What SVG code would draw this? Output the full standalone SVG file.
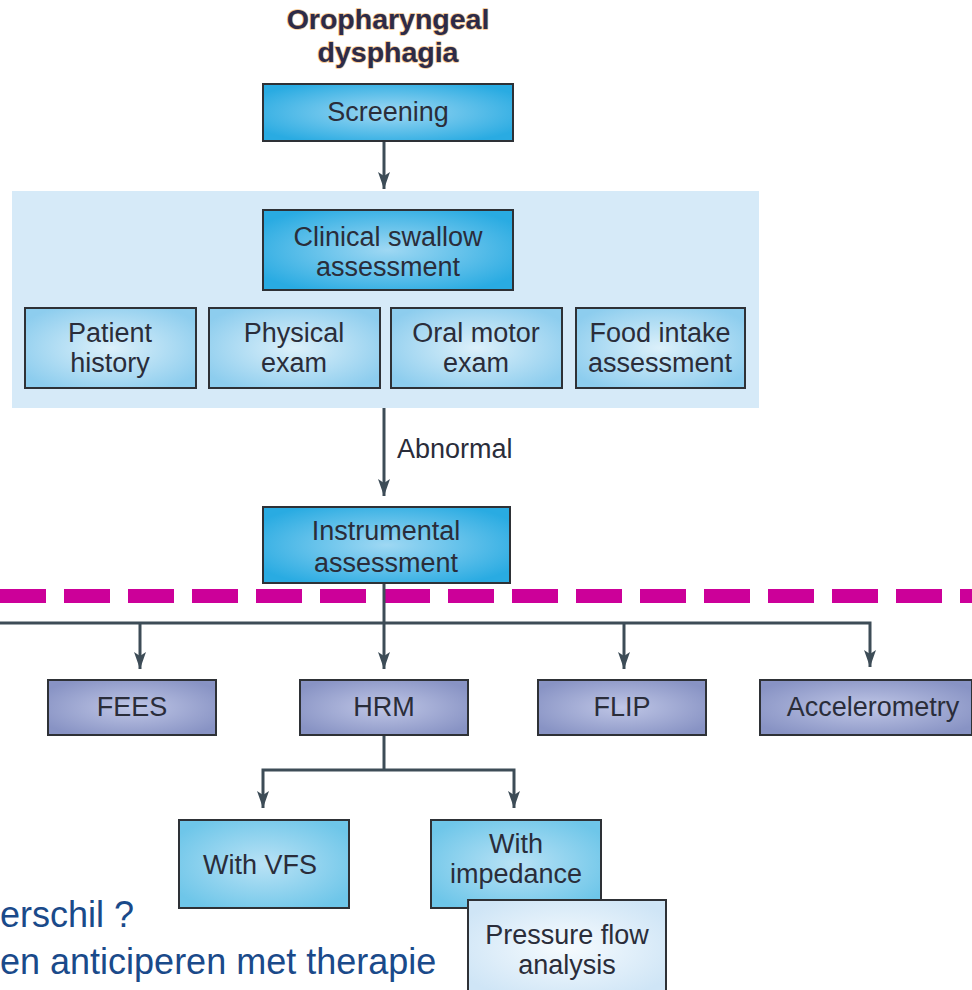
<svg xmlns="http://www.w3.org/2000/svg" width="972" height="990" viewBox="0 0 972 990">
<style>
text{font-family:"Liberation Sans",Arial,sans-serif;font-size:27px;fill:#2a2d3a;text-anchor:middle}
.title{font-weight:bold;font-size:28.5px;fill:#2d2b48;stroke:#f4c48a;stroke-width:1.5px;paint-order:stroke;stroke-linejoin:round}
.box{stroke:#2e3136;stroke-width:2}
.c{fill:url(#gCyan)}
.l{fill:url(#gLight)}
.p{fill:url(#gPurple)}
.v{fill:url(#gVfs)}
.w{fill:url(#gPale)}
.conn{fill:none;stroke:#3d4c57;stroke-width:3}
.nl{font-size:36px;fill:#1a4a8a;text-anchor:start}
</style>
<defs>
<radialGradient id="gCyan" cx="50%" cy="50%" r="60%"><stop offset="0" stop-color="#9fd8f3"/><stop offset="1" stop-color="#29abe2"/></radialGradient>
<radialGradient id="gLight" cx="50%" cy="50%" r="60%"><stop offset="0" stop-color="#dcf0fa"/><stop offset="1" stop-color="#8dcdee"/></radialGradient>
<radialGradient id="gPurple" cx="50%" cy="50%" r="60%"><stop offset="0" stop-color="#bfc6e6"/><stop offset="1" stop-color="#8893c4"/></radialGradient>
<radialGradient id="gVfs" cx="50%" cy="50%" r="60%"><stop offset="0" stop-color="#b9e2f5"/><stop offset="1" stop-color="#6ec6e9"/></radialGradient>
<radialGradient id="gPale" cx="50%" cy="50%" r="60%"><stop offset="0" stop-color="#f6fbfe"/><stop offset="1" stop-color="#cfe5f6"/></radialGradient>
<marker id="arr" viewBox="0 0 17 12" refX="17" refY="6" markerWidth="17" markerHeight="12" markerUnits="userSpaceOnUse" orient="auto-start-reverse">
<path d="M0,0 L4,6 L0,12 L17,6 Z" fill="#3d4c57"/>
</marker>
</defs>

<rect id="panel" x="12" y="191" width="747" height="217" fill="#d6eaf8"/>

<g id="dashline"><line x1="0" y1="596" x2="972" y2="596" stroke="#cc0099" stroke-width="14" stroke-dasharray="46 18"/></g>

<g id="connectors">
<line class="conn" x1="384" y1="141" x2="384" y2="189" marker-end="url(#arr)"/>
<line class="conn" x1="384" y1="408" x2="384" y2="496" marker-end="url(#arr)"/>
<line class="conn" x1="384" y1="583" x2="384" y2="669" marker-end="url(#arr)"/>
<polyline class="conn" points="0,623 870,623 870,667" marker-end="url(#arr)"/>
<line class="conn" x1="140" y1="623" x2="140" y2="669" marker-end="url(#arr)"/>
<line class="conn" x1="624" y1="623" x2="624" y2="669" marker-end="url(#arr)"/>
<line class="conn" x1="384" y1="735" x2="384" y2="770"/>
<polyline class="conn" points="263,808 263,770 514,770 514,808" marker-end="url(#arr)" marker-start="url(#arr)"/>
<text x="397" y="458" style="text-anchor:start">Abnormal</text>
</g>

<g id="title"><text class="title" x="388" y="29">Oropharyngeal</text><text class="title" x="388" y="62">dysphagia</text></g>

<g id="screening"><rect class="box c" x="263" y="84" width="250" height="57"/><text x="388" y="121">Screening</text></g>

<g id="clinical"><rect class="box c" x="263" y="210" width="250" height="80"/><text x="388" y="246">Clinical swallow</text><text x="388" y="276">assessment</text></g>

<g id="patient"><rect class="box l" x="25" y="308" width="171" height="80"/><text x="110" y="342">Patient</text><text x="110" y="372">history</text></g>
<g id="physical"><rect class="box l" x="209" y="308" width="171" height="80"/><text x="294" y="342">Physical</text><text x="294" y="372">exam</text></g>
<g id="oral"><rect class="box l" x="391" y="308" width="171" height="80"/><text x="476" y="342">Oral motor</text><text x="476" y="372">exam</text></g>
<g id="food"><rect class="box l" x="576" y="308" width="169" height="80"/><text x="660" y="342">Food intake</text><text x="660" y="372">assessment</text></g>

<g id="instrumental"><rect class="box c" x="263" y="507" width="247" height="76"/><text x="386" y="540">Instrumental</text><text x="386" y="572">assessment</text></g>

<g id="fees"><rect class="box p" x="48" y="680" width="168" height="55"/><text x="132" y="716">FEES</text></g>
<g id="hrm"><rect class="box p" x="300" y="680" width="168" height="55"/><text x="384" y="716">HRM</text></g>
<g id="flip"><rect class="box p" x="538" y="680" width="168" height="55"/><text x="622" y="716">FLIP</text></g>
<g id="accel"><rect class="box p" x="760" y="680" width="212" height="55"/><text x="873" y="716">Accelerometry</text></g>

<g id="vfs"><rect class="box v" x="179" y="820" width="170" height="88"/><text x="260" y="874">With VFS</text></g>
<g id="impedance"><rect class="box v" x="431" y="820" width="170" height="88"/><text x="516" y="853">With</text><text x="516" y="883">impedance</text></g>
<g id="pressure"><rect class="box w" x="468" y="900" width="198" height="95"/><text x="567" y="944">Pressure flow</text><text x="567" y="974">analysis</text></g>

<g id="notes"><text class="nl" x="0" y="927">erschil ?</text><text class="nl" x="0" y="974">en anticiperen met therapie</text></g>
</svg>
